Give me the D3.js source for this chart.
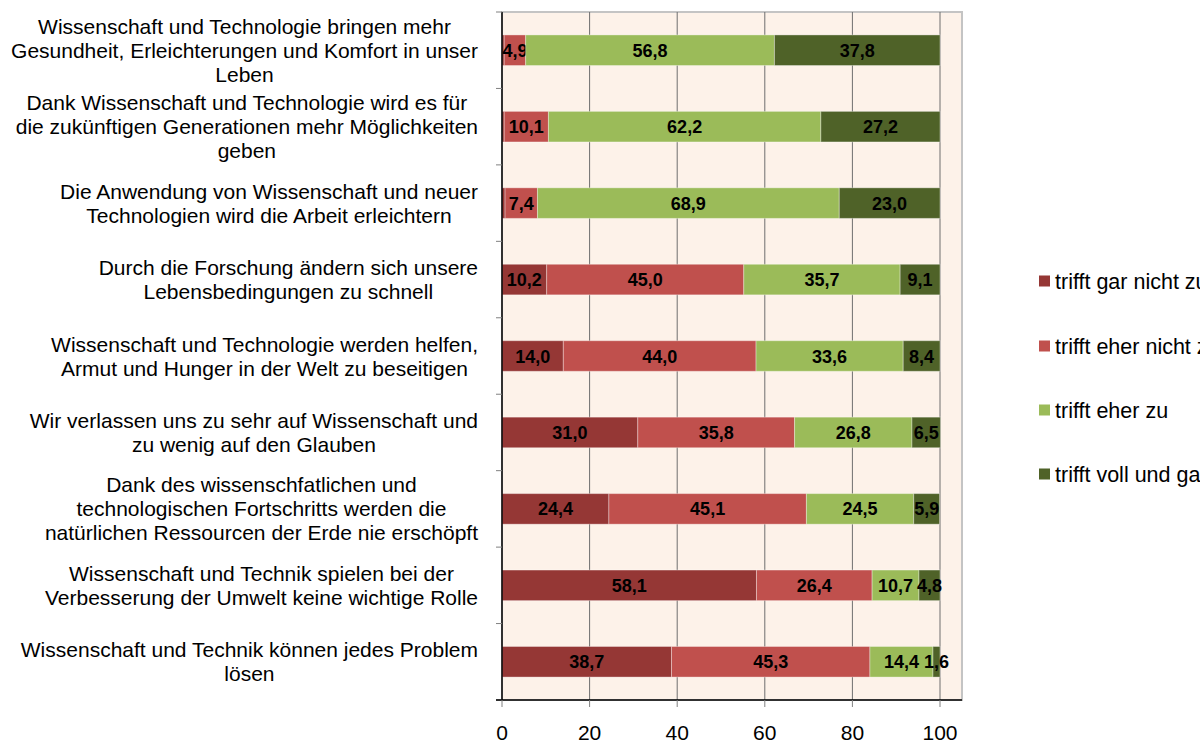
<!DOCTYPE html>
<html>
<head>
<meta charset="utf-8">
<script src="https://cdn.jsdelivr.net/npm/d3@7"></script>
<style>
  body { margin: 0; background: #fff; }
  svg { display: block; font-family: "Liberation Sans", Arial, sans-serif; }
</style>
</head>
<body>
<div id="chart"></div>
<script>
// categories, each split into the lines shown in the picture
let categories = [
    ["Wissenschaft und Technologie bringen mehr", "Gesundheit, Erleichterungen und Komfort in unser", "Leben"],
    ["Dank Wissenschaft und Technologie wird es für", "die zukünftigen Generationen mehr Möglichkeiten", "geben"],
    ["Die Anwendung von Wissenschaft und neuer", "Technologien wird die Arbeit erleichtern"],
    ["Durch die Forschung ändern sich unsere", "Lebensbedingungen zu schnell"],
    ["Wissenschaft und Technologie werden helfen,", "Armut und Hunger in der Welt zu beseitigen"],
    ["Wir verlassen uns zu sehr auf Wissenschaft und", "zu wenig auf den Glauben"],
    ["Dank des wissenschfatlichen und", "technologischen Fortschritts werden die", "natürlichen Ressourcen der Erde nie erschöpft"],
    ["Wissenschaft und Technik spielen bei der", "Verbesserung der Umwelt keine wichtige Rolle"],
    ["Wissenschaft und Technik können jedes Problem", "lösen"]
];

let series_names = ["trifft gar nicht zu", "trifft eher nicht zu", "trifft eher zu", "trifft voll und ganz zu"];
let series_colors = ["#953735", "#C0504D", "#9BBB59", "#4F6228"];

let gar_nicht   = [0.5, 0.5, 0.7, 10.2, 14.0, 31.0, 24.4, 58.1, 38.7];
let eher_nicht  = [4.9, 10.1, 7.4, 45.0, 44.0, 35.8, 45.1, 26.4, 45.3];
let eher_zu     = [56.8, 62.2, 68.9, 35.7, 33.6, 26.8, 24.5, 10.7, 14.4];
let voll_ganz   = [37.8, 27.2, 23.0, 9.1, 8.4, 6.5, 5.9, 4.8, 1.6];

let x_ticks = [0, 20, 40, 60, 80, 100];

let series = [gar_nicht, eher_nicht, eher_zu, voll_ganz];

let width = 1200, height = 746;
let plot_left = 502, plot_right = 962, plot_top = 12, plot_bottom = 700;

let svg = d3.select("#chart").append("svg")
    .attr("width", width)
    .attr("height", height);

let x_scale = d3.scaleLinear().domain([0, 100]).range([plot_left, 940]);
let y_scale = d3.scaleBand()
    .domain(d3.range(categories.length))
    .range([plot_top, plot_bottom])
    .paddingInner(0.6)
    .paddingOuter(0.3);

// plot background + border
svg.append("rect")
    .attr("x", plot_left).attr("y", plot_top)
    .attr("width", plot_right - plot_left).attr("height", plot_bottom - plot_top)
    .attr("fill", "#FDF2E9")
    .attr("stroke", "#c4c4c4")
    .attr("stroke-width", 2);

// vertical gridlines
svg.selectAll(".grid")
    .data(x_ticks.slice(1))
    .enter().append("line")
    .attr("x1", d => x_scale(d)).attr("x2", d => x_scale(d))
    .attr("y1", plot_top).attr("y2", plot_bottom)
    .attr("stroke", "#6e6e6e")
    .attr("stroke-width", 1);

// stacked bars
let fmt = v => d3.format(".1f")(v).replace(".", ",");
categories.forEach((c, i) => {
    let start = 0;
    series.forEach((s, k) => {
        let v = s[i];
        let y = y_scale(i);
        svg.append("rect")
            .attr("x", x_scale(start))
            .attr("y", y)
            .attr("width", x_scale(start + v) - x_scale(start))
            .attr("height", y_scale.bandwidth())
            .attr("fill", series_colors[k])
            .attr("stroke", "rgba(255,255,255,0.35)")
            .attr("stroke-width", 1);
        if (v >= 1) {
            svg.append("text")
                .attr("x", x_scale(start + v / 2))
                .attr("y", y + y_scale.bandwidth() / 2 + 6.5)
                .attr("text-anchor", "middle")
                .attr("font-size", 18)
                .attr("font-weight", "bold")
                .attr("fill", "#000")
                .text(fmt(v));
        }
        start += v;
    });
});

// left axis line + ticks at category boundaries
svg.append("line")
    .attr("x1", plot_left).attr("x2", plot_left)
    .attr("y1", plot_top).attr("y2", plot_bottom)
    .attr("stroke", "#000").attr("stroke-width", 1.5);
let bounds = d3.range(categories.length + 1).map(i => plot_top + i * y_scale.step());
svg.selectAll(".ytick")
    .data(bounds)
    .enter().append("line")
    .attr("x1", 496).attr("x2", plot_left)
    .attr("y1", d => d).attr("y2", d => d)
    .attr("stroke", "#808080");

// bottom axis
svg.append("line")
    .attr("x1", 496).attr("x2", plot_right)
    .attr("y1", plot_bottom).attr("y2", plot_bottom)
    .attr("stroke", "#000").attr("stroke-width", 1.5);
svg.selectAll(".xtick")
    .data(x_ticks)
    .enter().append("line")
    .attr("x1", d => x_scale(d)).attr("x2", d => x_scale(d))
    .attr("y1", plot_bottom).attr("y2", plot_bottom + 7)
    .attr("stroke", "#808080");
svg.selectAll(".xlabel")
    .data(x_ticks)
    .enter().append("text")
    .attr("x", d => x_scale(d))
    .attr("y", 740)
    .attr("text-anchor", "middle")
    .attr("font-size", 21)
    .attr("fill", "#000")
    .text(d => d);

// category labels: lines centred on the widest line, which ends at x=478
categories.forEach((lines, i) => {
    let g = svg.append("g");
    let texts = lines.map(l => g.append("text")
        .attr("font-size", 21)
        .attr("fill", "#000")
        .attr("text-anchor", "middle")
        .text(l));
    let w = d3.max(texts, t => t.node().getComputedTextLength());
    let cx = 478 - w / 2;
    let cy = y_scale(i) + y_scale.bandwidth() / 2;
    texts.forEach((t, j) => {
        t.attr("x", cx)
         .attr("y", cy + (j - (lines.length - 1) / 2) * 24 + 7.5);
    });
});

// legend (runs past the right edge, as in the original)
let legend_y = [281, 346, 410, 474];
series_names.forEach((name, k) => {
    svg.append("rect")
        .attr("x", 1039).attr("y", legend_y[k] - 5.5)
        .attr("width", 11).attr("height", 11)
        .attr("fill", series_colors[k]);
    svg.append("text")
        .attr("x", 1055).attr("y", legend_y[k] + 8)
        .attr("font-size", 21.5)
        .attr("fill", "#000")
        .text(name);
});
</script>
</body>
</html>
